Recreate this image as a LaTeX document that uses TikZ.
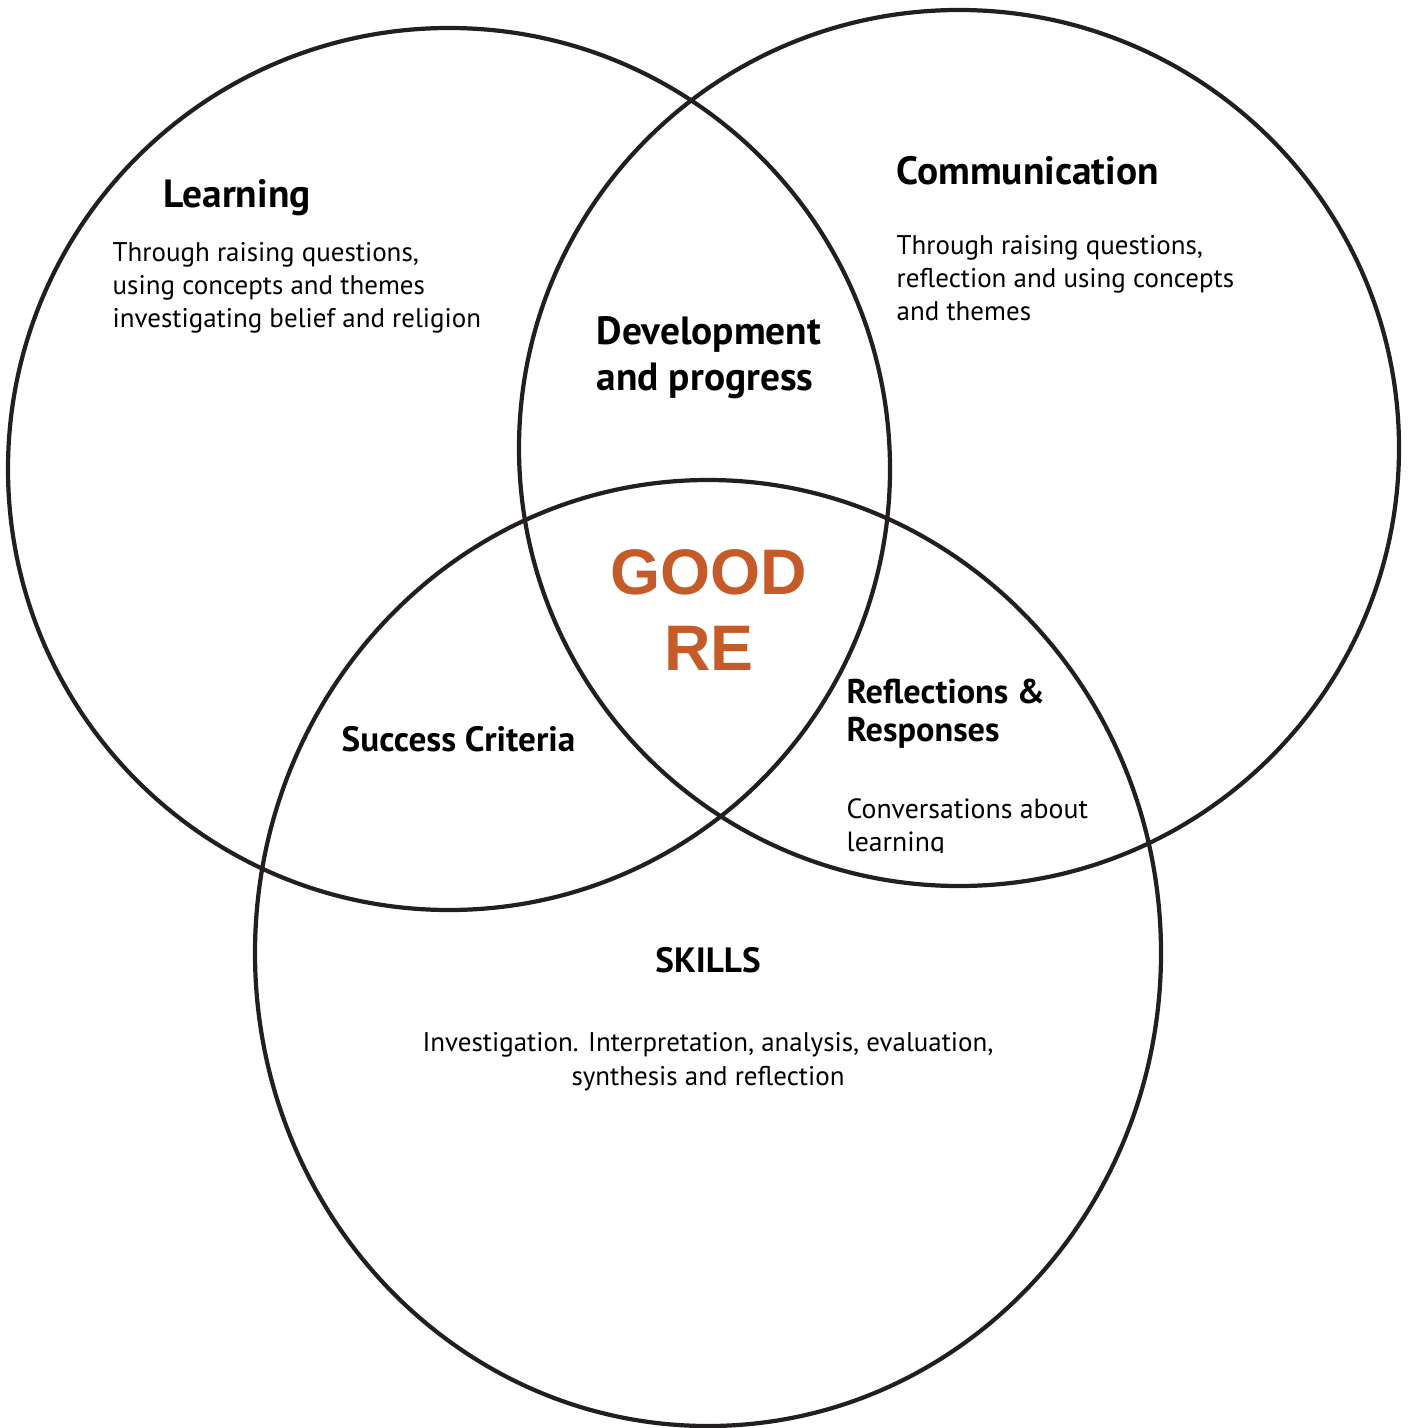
\documentclass[tikz,border=0pt]{standalone}
\usepackage{fontspec}
\setmainfont{PT Sans}
\newfontfamily\arialfont{Liberation Sans}
\definecolor{ink}{RGB}{35,31,32}
\definecolor{goodorange}{RGB}{197,91,41}
\tikzset{
  ring/.style={draw=ink, line width=1.2pt},
  head/.style={font=\bfseries\fontsize{10}{13}\selectfont, anchor=base west, inner sep=0pt, align=left},
  title/.style={head, font=\bfseries\fontsize{11.2}{13.1}\selectfont},
  body/.style={font=\fontsize{7.67}{9.5}\selectfont, anchor=base west, inner sep=0pt, align=left},
  core/.style={font=\arialfont\bfseries\fontsize{18.3}{21.6}\selectfont, text=goodorange, align=center, inner sep=0pt}
}
\begin{document}
\begin{tikzpicture}[x=0.01cm, y=-0.01cm]
    % Fixing the page size
    \useasboundingbox (0,0) rectangle (1409,1428);
    % Drawing the three sets
    \draw[ring] (449,469) ellipse [x radius=441, y radius=441];
    \draw[ring] (959,448) ellipse [x radius=440, y radius=438];
    \draw[ring] (708,953) ellipse [x radius=453, y radius=473];
    % Left set
    \node[title] (learn) at (163,208) {Learning};
    \node[body] (learntxt) at (112,328) {Through raising questions,\\using concepts and themes\\investigating belief and religion};
    % Right set
    \node[title] (comm) at (896,185) {Communication};
    \node[body] (commtxt) at (896,321) {Through raising questions,\\reflection and using concepts\\and themes};
    % Bottom set
    \node[head, anchor=base] (skills) at (708,972) {SKILLS};
    \node[body, anchor=base, align=center] (skilltxt) at (708,1085) {Investigation. Interpretation, analysis, evaluation,\\synthesis and reflection};
    % Overlaps
    \node[title] (devel) at (596,391) {Development\\and progress};
    \node[head] (success) at (341,751) {Success Criteria};
    \node[head, font=\bfseries\fontsize{9.75}{10.8}\selectfont] (reflect) at (846,741) {Reflections \&\\Responses};
    \begin{scope}
      \clip (800,760) rectangle (1150,852);
      \node[body, font=\fontsize{7.9}{9.2}\selectfont] (convers) at (846,851) {Conversations about\\learning};
    \end{scope}
    % Centre
    \node[core] (good) at (709,610) {GOOD\\RE};
\end{tikzpicture}
\end{document}
